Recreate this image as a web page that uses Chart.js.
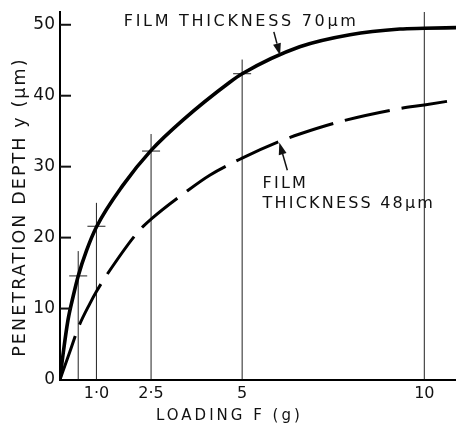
<!DOCTYPE html>
<html>
<head>
<meta charset="utf-8">
<script src="https://cdn.jsdelivr.net/npm/chart.js@4.4.1/dist/chart.umd.min.js"></script>
<style>
  body { margin: 0; background: #fff; }
  #grafico { display: block; }
</style>
</head>
<body>
<canvas id="grafico" width="456" height="423"></canvas>
<script>
// film 70 um: loading F (g) and penetration depth y (um)
var load70 = [0, 0.08, 0.22, 0.36, 0.5, 0.73, 1.0, 1.73, 2.5, 3.38, 4.66, 5.0, 6.58, 7.96, 9.33, 10, 10.87];
var depth70 = [0, 3.4, 8.4, 11.7, 14.6, 18.2, 21.5, 27.4, 32.3, 36.6, 41.9, 43.1, 46.9, 48.6, 49.4, 49.5, 49.6];

// film 48 um
var load48 = [0, 0.27, 0.51, 0.82, 1.0, 1.37, 2.14, 2.5, 3.47, 4.11, 5.0, 6.0, 6.58, 7.73, 9.24, 10, 10.87];
var depth48 = [0, 3.9, 7.4, 10.7, 12.4, 15.4, 20.8, 22.6, 26.5, 28.8, 31.2, 33.5, 34.6, 36.4, 38.1, 38.7, 39.4];

// measured loads: top of the scatter line and the measured depth
var loadBars = [0.5, 1.0, 2.5, 5, 10];
var barTop = [18.1, 24.9, 34.6, 45.1, 51.8];
var barMark = [14.6, 21.6, 32.2, 43.1, 49.5];

var xTicks = [1, 2.5, 5, 10];
var xTickLabels = ['1·0', '2·5', '5', '10'];
var yTicks = [0, 10, 20, 30, 40, 50];

var FONT = '"DejaVu Sans", sans-serif';

function pairs(xs, ys) {
  var out = [];
  for (var i = 0; i < xs.length; i++) {
    out.push({x: xs[i], y: ys[i]});
  }
  return out;
}

function barLines() {
  var out = [];
  for (var i = 0; i < loadBars.length; i++) {
    out.push({x: loadBars[i], y: 0});
    out.push({x: loadBars[i], y: barTop[i]});
    out.push({x: loadBars[i], y: null});
  }
  return out;
}

function text(ctx, str, x, y, size, spacing, align) {
  ctx.font = size + 'px ' + FONT;
  ctx.letterSpacing = spacing + 'px';
  ctx.textAlign = align;
  ctx.textBaseline = 'alphabetic';
  ctx.fillText(str, x, y);
}

function arrow(ctx, x1, y1, x2, y2) {
  var ang = Math.atan2(y2 - y1, x2 - x1);
  var len = 12, half = 4;
  var bx = x2 - len * Math.cos(ang), by = y2 - len * Math.sin(ang);
  ctx.lineWidth = 1.5;
  ctx.beginPath();
  ctx.moveTo(x1, y1);
  ctx.lineTo(bx, by);
  ctx.stroke();
  ctx.beginPath();
  ctx.moveTo(x2, y2);
  ctx.lineTo(bx + half * Math.sin(ang), by - half * Math.cos(ang));
  ctx.lineTo(bx - half * Math.sin(ang), by + half * Math.cos(ang));
  ctx.closePath();
  ctx.fill();
}

var notes = {
  id: 'notes',
  afterDraw: function(chart) {
    var ctx = chart.ctx;
    var xs = chart.scales.x, ys = chart.scales.y, area = chart.chartArea;
    var px = function(v) { return xs.getPixelForValue(v); };
    var py = function(v) { return ys.getPixelForValue(v); };
    ctx.save();
    ctx.fillStyle = '#111';
    ctx.strokeStyle = '#111';

    // y ticks point inwards
    ctx.lineWidth = 2;
    for (var i = 1; i < yTicks.length; i++) {
      ctx.beginPath();
      ctx.moveTo(area.left, py(yTicks[i]));
      ctx.lineTo(area.left + 11, py(yTicks[i]));
      ctx.stroke();
    }

    text(ctx, 'FILM THICKNESS 70µm', px(1.75), py(49.8), 16, 2.7, 'left');
    arrow(ctx, px(5.87), py(49.0), px(6.04), py(45.7));

    text(ctx, 'FILM', px(5.56), py(26.95), 16, 2.2, 'left');
    text(ctx, 'THICKNESS 48µm', px(5.56), py(24.13), 16, 2.2, 'left');
    arrow(ctx, px(6.24), py(29.5), px(6.02), py(33.4));

    text(ctx, 'LOADING F (g)', px(4.65), area.bottom + 40.5, 15, 3, 'center');

    ctx.translate(25, py(24.3));
    ctx.rotate(-Math.PI / 2);
    text(ctx, 'PENETRATION DEPTH y (µm)', 0, 0, 17.5, 2.1, 'center');
    ctx.restore();
  }
};

var ctx = document.getElementById('grafico');
var chart = new Chart(ctx, {
  type: 'scatter',
  data: {
    datasets: [{
      label: 'Film thickness 70 µm',
      data: pairs(load70, depth70),
      showLine: true,
      borderColor: '#000',
      borderWidth: 3.6,
      pointRadius: 0,
      cubicInterpolationMode: 'monotone'
    }, {
      label: 'Film thickness 48 µm',
      data: pairs(load48, depth48),
      showLine: true,
      borderColor: '#000',
      borderWidth: 3,
      borderDash: [46, 12],
      pointRadius: 0,
      cubicInterpolationMode: 'monotone'
    }, {
      label: 'measured',
      data: pairs(loadBars, barMark),
      showLine: false,
      pointStyle: 'line',
      pointRadius: 9,
      borderColor: '#222',
      borderWidth: 1
    }, {
      label: 'spread',
      data: barLines(),
      showLine: true,
      spanGaps: false,
      borderColor: '#222',
      borderWidth: 1,
      pointRadius: 0
    }]
  },
  options: {
    responsive: false,
    animation: false,
    devicePixelRatio: 1,
    layout: {
      autoPadding: false,
      padding: { top: 12, right: 0, left: 0, bottom: 0 }
    },
    plugins: {
      legend: { display: false },
      tooltip: { enabled: false }
    },
    scales: {
      x: {
        type: 'linear',
        min: 0,
        max: 10.87,
        afterBuildTicks: function(scale) {
          scale.ticks = xTicks.map(function(v) { return {value: v}; });
        },
        afterFit: function(scale) {
          scale.height = 43.5;
          scale.paddingLeft = 0;
          scale.paddingRight = 0;
        },
        grid: { display: false, drawTicks: false },
        border: { display: true, color: '#000', width: 2 },
        ticks: {
          color: '#111',
          padding: 5,
          maxRotation: 0,
          autoSkip: false,
          font: { family: FONT, size: 16 },
          callback: function(v) {
            var i = xTicks.indexOf(v);
            return i >= 0 ? xTickLabels[i] : '';
          }
        }
      },
      y: {
        min: 0,
        max: 51.8,
        afterBuildTicks: function(scale) {
          scale.ticks = yTicks.map(function(v) { return {value: v}; });
        },
        afterFit: function(scale) {
          scale.width = 60;
          scale.paddingTop = 0;
          scale.paddingBottom = 0;
        },
        grid: { display: false, drawTicks: false },
        border: { display: true, color: '#000', width: 2 },
        ticks: {
          color: '#111',
          padding: 5,
          autoSkip: false,
          font: { family: FONT, size: 17 }
        }
      }
    }
  },
  plugins: [notes]
});
</script>
</body>
</html>
